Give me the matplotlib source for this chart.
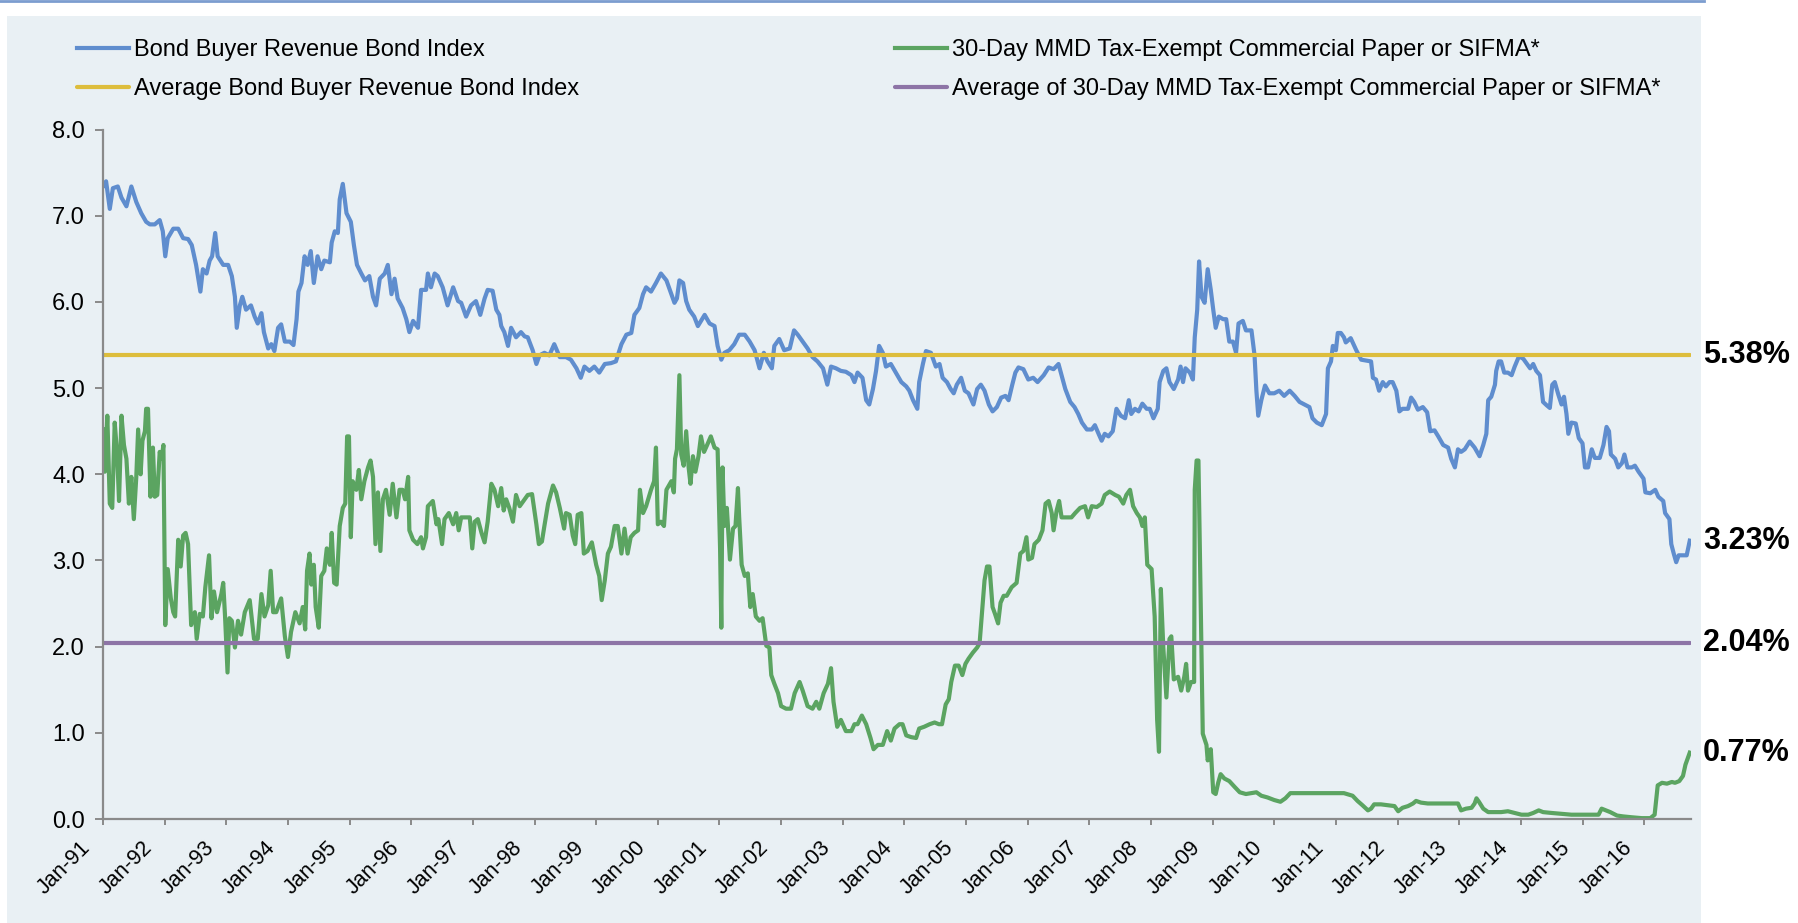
import matplotlib
matplotlib.use('Agg')
import matplotlib.pyplot as plt
import matplotlib.transforms as mtransforms
from matplotlib.lines import Line2D
from matplotlib.patches import Rectangle

plt.rcParams['font.family'] = ['Liberation Sans', 'DejaVu Sans']

# Bond Buyer Revenue Bond Index (decimal year, %)
bbri_years = [
    1991.00, 1991.05, 1991.11, 1991.16, 1991.24, 1991.30, 1991.38, 1991.46, 1991.54, 1991.62,
    1991.70, 1991.76, 1991.84, 1991.92, 1991.97, 1992.01, 1992.05, 1992.14, 1992.22, 1992.30,
    1992.38, 1992.44, 1992.51, 1992.58, 1992.62, 1992.68, 1992.73, 1992.77, 1992.82, 1992.86,
    1992.95, 1993.03, 1993.09, 1993.14, 1993.17, 1993.22, 1993.26, 1993.32, 1993.40, 1993.46,
    1993.51, 1993.57, 1993.61, 1993.68, 1993.73, 1993.78, 1993.84, 1993.89, 1993.95, 1994.03,
    1994.09, 1994.14, 1994.17, 1994.22, 1994.27, 1994.32, 1994.37, 1994.42, 1994.48, 1994.54,
    1994.59, 1994.68, 1994.71, 1994.76, 1994.81, 1994.84, 1994.89, 1994.95, 1995.02, 1995.07,
    1995.12, 1995.19, 1995.25, 1995.32, 1995.38, 1995.43, 1995.49, 1995.57, 1995.62, 1995.68,
    1995.73, 1995.78, 1995.86, 1995.92, 1995.97, 1996.03, 1996.11, 1996.16, 1996.24, 1996.27,
    1996.32, 1996.38, 1996.43, 1996.51, 1996.59, 1996.68, 1996.76, 1996.81, 1996.89, 1996.97,
    1997.05, 1997.12, 1997.19, 1997.24, 1997.32, 1997.38, 1997.43, 1997.46, 1997.51, 1997.57,
    1997.62, 1997.70, 1997.78, 1997.84, 1997.89, 1997.97, 1998.03, 1998.08, 1998.16, 1998.24,
    1998.32, 1998.41, 1998.51, 1998.59, 1998.68, 1998.75, 1998.81, 1998.89, 1998.97, 1999.05,
    1999.14, 1999.24, 1999.32, 1999.41, 1999.49, 1999.57, 1999.62, 1999.70, 1999.76, 1999.81,
    1999.89, 1999.97, 2000.05, 2000.14, 2000.22, 2000.27, 2000.31, 2000.35, 2000.41, 2000.46,
    2000.51, 2000.59, 2000.65, 2000.70, 2000.76, 2000.84, 2000.92, 2000.97, 2001.03, 2001.08,
    2001.16, 2001.24, 2001.32, 2001.41, 2001.49, 2001.57, 2001.65, 2001.72, 2001.78, 2001.85,
    2001.89, 2001.97, 2002.05, 2002.14, 2002.21, 2002.27, 2002.35, 2002.43, 2002.51, 2002.59,
    2002.68, 2002.75, 2002.81, 2002.89, 2002.97, 2003.05, 2003.14, 2003.19, 2003.24, 2003.32,
    2003.38, 2003.43, 2003.49, 2003.54, 2003.59, 2003.65, 2003.70, 2003.78, 2003.86, 2003.95,
    2004.03, 2004.08, 2004.14, 2004.21, 2004.24, 2004.30, 2004.35, 2004.43, 2004.51, 2004.57,
    2004.62, 2004.69, 2004.75, 2004.80, 2004.85, 2004.92, 2004.98, 2005.04, 2005.12, 2005.18,
    2005.24, 2005.30, 2005.37, 2005.43, 2005.50, 2005.57, 2005.64, 2005.69, 2005.75, 2005.80,
    2005.85, 2005.93, 2006.01, 2006.09, 2006.16, 2006.26, 2006.34, 2006.42, 2006.50, 2006.55,
    2006.61, 2006.69, 2006.76, 2006.82, 2006.88, 2006.96, 2007.04, 2007.09, 2007.15, 2007.20,
    2007.25, 2007.31, 2007.38, 2007.44, 2007.51, 2007.58, 2007.64, 2007.68, 2007.74, 2007.80,
    2007.86, 2007.93, 2007.98, 2008.04, 2008.11, 2008.14, 2008.20, 2008.25, 2008.30, 2008.37,
    2008.44, 2008.48, 2008.52, 2008.56, 2008.63, 2008.68, 2008.71, 2008.75, 2008.78, 2008.82,
    2008.87, 2008.92, 2008.97, 2009.01, 2009.05, 2009.10, 2009.17, 2009.22, 2009.27, 2009.33,
    2009.38, 2009.42, 2009.49, 2009.54, 2009.63, 2009.68, 2009.71, 2009.74, 2009.79, 2009.85,
    2009.92, 2010.00, 2010.08, 2010.16, 2010.25, 2010.33, 2010.41, 2010.49, 2010.57, 2010.62,
    2010.69, 2010.77, 2010.84, 2010.87, 2010.92, 2010.95, 2011.00, 2011.03, 2011.08, 2011.13,
    2011.16, 2011.24, 2011.33, 2011.41, 2011.49, 2011.57, 2011.60, 2011.65, 2011.70, 2011.76,
    2011.81, 2011.87, 2011.92, 2011.98, 2012.03, 2012.08, 2012.17, 2012.22, 2012.27, 2012.33,
    2012.41, 2012.48, 2012.53, 2012.60, 2012.66, 2012.74, 2012.82, 2012.87, 2012.93, 2012.98,
    2013.03, 2013.09, 2013.17, 2013.25, 2013.33, 2013.39, 2013.44, 2013.47, 2013.52, 2013.58,
    2013.60, 2013.64, 2013.68, 2013.73, 2013.79, 2013.85, 2013.90, 2013.97, 2014.04, 2014.09,
    2014.15, 2014.20, 2014.25, 2014.31, 2014.36, 2014.42, 2014.47, 2014.51, 2014.55, 2014.61,
    2014.66, 2014.70, 2014.74, 2014.77, 2014.82, 2014.89, 2014.94, 2015.00, 2015.04, 2015.09,
    2015.15, 2015.20, 2015.28, 2015.34, 2015.39, 2015.43, 2015.46, 2015.53, 2015.58, 2015.64,
    2015.68, 2015.73, 2015.80, 2015.85, 2015.91, 2015.99, 2016.02, 2016.10, 2016.18, 2016.23,
    2016.31, 2016.34, 2016.41, 2016.44, 2016.48, 2016.52, 2016.56, 2016.64, 2016.69, 2016.74,
]
bbri_values = [
    7.34, 7.40, 7.08, 7.32, 7.34, 7.21, 7.11, 7.34, 7.16, 7.03,
    6.93, 6.90, 6.90, 6.95, 6.82, 6.53, 6.74, 6.85, 6.85, 6.74,
    6.73, 6.66, 6.43, 6.12, 6.38, 6.33, 6.48, 6.53, 6.80, 6.53,
    6.43, 6.43, 6.30, 6.06, 5.70, 5.96, 6.06, 5.91, 5.96, 5.83,
    5.75, 5.87, 5.65, 5.46, 5.51, 5.43, 5.70, 5.74, 5.54, 5.54,
    5.50, 5.80, 6.12, 6.22, 6.53, 6.43, 6.59, 6.22, 6.53, 6.38,
    6.48, 6.46, 6.69, 6.82, 6.80, 7.19, 7.37, 7.03, 6.93, 6.66,
    6.43, 6.33, 6.25, 6.30, 6.06, 5.96, 6.27, 6.33, 6.43, 6.09,
    6.27, 6.04, 5.93, 5.80, 5.65, 5.78, 5.70, 6.14, 6.14, 6.33,
    6.17, 6.33, 6.30, 6.17, 5.96, 6.17, 6.01, 5.99, 5.83, 5.96,
    6.01, 5.85, 6.04, 6.14, 6.13, 5.91, 5.85, 5.72, 5.65, 5.49,
    5.70, 5.59, 5.65, 5.60, 5.59, 5.44, 5.28, 5.38, 5.41, 5.38,
    5.51, 5.36, 5.36, 5.33, 5.23, 5.12, 5.25, 5.20, 5.25, 5.18,
    5.28, 5.29, 5.31, 5.51, 5.62, 5.64, 5.85, 5.93, 6.09, 6.17,
    6.12, 6.22, 6.33, 6.25, 6.09, 5.99, 6.04, 6.25, 6.22, 6.01,
    5.91, 5.83, 5.72, 5.78, 5.85, 5.75, 5.72, 5.49, 5.33, 5.41,
    5.44, 5.51, 5.62, 5.62, 5.54, 5.44, 5.23, 5.41, 5.31, 5.23,
    5.49, 5.57, 5.44, 5.46, 5.67, 5.62, 5.54, 5.46, 5.36, 5.31,
    5.23, 5.04, 5.25, 5.23, 5.20, 5.19, 5.15, 5.07, 5.18, 5.12,
    4.86, 4.81, 4.99, 5.20, 5.49, 5.41, 5.25, 5.28, 5.18, 5.07,
    5.02, 4.97, 4.86, 4.76, 5.07, 5.28, 5.43, 5.41, 5.25, 5.28,
    5.12, 5.07, 4.99, 4.94, 5.04, 5.12, 4.97, 4.94, 4.81, 4.99,
    5.04, 4.97, 4.81, 4.73, 4.78, 4.89, 4.91, 4.86, 5.04, 5.18,
    5.24, 5.22, 5.10, 5.12, 5.07, 5.15, 5.24, 5.22, 5.28, 5.15,
    4.99, 4.84, 4.78, 4.70, 4.60, 4.52, 4.52, 4.57, 4.47, 4.39,
    4.47, 4.44, 4.50, 4.76, 4.68, 4.65, 4.86, 4.70, 4.76, 4.73,
    4.82, 4.76, 4.76, 4.65, 4.76, 5.07, 5.20, 5.23, 5.07, 4.99,
    5.10, 5.25, 5.07, 5.23, 5.18, 5.10, 5.59, 5.91, 6.47, 6.06,
    5.99, 6.38, 6.14, 5.91, 5.70, 5.83, 5.80, 5.80, 5.54, 5.54,
    5.41, 5.75, 5.78, 5.67, 5.67, 5.38, 4.97, 4.68, 4.86, 5.03,
    4.94, 4.94, 4.97, 4.91, 4.97, 4.91, 4.84, 4.81, 4.78, 4.65,
    4.60, 4.57, 4.70, 5.23, 5.31, 5.49, 5.44, 5.64, 5.64, 5.59,
    5.53, 5.58, 5.44, 5.33, 5.32, 5.31, 5.12, 5.10, 4.97, 5.07,
    5.02, 5.07, 5.07, 4.97, 4.73, 4.76, 4.76, 4.89, 4.84, 4.75,
    4.78, 4.72, 4.50, 4.51, 4.44, 4.34, 4.31, 4.18, 4.08, 4.29,
    4.26, 4.29, 4.38, 4.31, 4.21, 4.34, 4.47, 4.86, 4.90, 5.04,
    5.20, 5.31, 5.31, 5.18, 5.18, 5.15, 5.25, 5.37, 5.34, 5.29,
    5.23, 5.28, 5.20, 5.15, 4.84, 4.80, 4.77, 5.04, 5.07, 4.92,
    4.81, 4.90, 4.70, 4.47, 4.60, 4.59, 4.42, 4.36, 4.08, 4.08,
    4.29, 4.19, 4.19, 4.34, 4.55, 4.50, 4.23, 4.18, 4.08, 4.13,
    4.23, 4.08, 4.08, 4.10, 4.03, 3.95, 3.79, 3.78, 3.82, 3.74,
    3.69, 3.55, 3.48, 3.19, 3.08, 2.98, 3.06, 3.06, 3.06, 3.23,
]

# 30-Day MMD Tax-Exempt Commercial Paper or SIFMA (decimal year, %)
sifma_years = [
    1991.00, 1991.03, 1991.07, 1991.11, 1991.15, 1991.19, 1991.23, 1991.26, 1991.30, 1991.34,
    1991.38, 1991.42, 1991.46, 1991.50, 1991.54, 1991.57, 1991.61, 1991.64, 1991.68, 1991.70,
    1991.73, 1991.77, 1991.81, 1991.84, 1991.88, 1991.92, 1991.95, 1991.98, 1992.01, 1992.05,
    1992.10, 1992.14, 1992.17, 1992.22, 1992.26, 1992.30, 1992.34, 1992.38, 1992.43, 1992.49,
    1992.52, 1992.57, 1992.62, 1992.66, 1992.72, 1992.76, 1992.80, 1992.85, 1992.92, 1992.95,
    1992.98, 1993.02, 1993.05, 1993.09, 1993.14, 1993.19, 1993.24, 1993.30, 1993.38, 1993.45,
    1993.51, 1993.57, 1993.62, 1993.68, 1993.72, 1993.76, 1993.81, 1993.89, 1993.95, 1994.00,
    1994.05, 1994.12, 1994.19, 1994.24, 1994.28, 1994.31, 1994.35, 1994.38, 1994.42, 1994.45,
    1994.50, 1994.54, 1994.59, 1994.63, 1994.68, 1994.71, 1994.75, 1994.79, 1994.84, 1994.89,
    1994.93, 1994.96, 1994.99, 1995.02, 1995.05, 1995.11, 1995.15, 1995.19, 1995.24, 1995.30,
    1995.34, 1995.38, 1995.42, 1995.46, 1995.50, 1995.54, 1995.59, 1995.65, 1995.70, 1995.76,
    1995.81, 1995.86, 1995.90, 1995.95, 1995.97, 1996.03, 1996.10, 1996.16, 1996.19, 1996.24,
    1996.27, 1996.35, 1996.41, 1996.44, 1996.50, 1996.54, 1996.61, 1996.68, 1996.73, 1996.77,
    1996.81, 1996.89, 1996.95, 1996.99, 1997.03, 1997.08, 1997.14, 1997.19, 1997.24, 1997.30,
    1997.35, 1997.41, 1997.46, 1997.50, 1997.54, 1997.59, 1997.65, 1997.70, 1997.76, 1997.84,
    1997.89, 1997.96, 1998.03, 1998.07, 1998.12, 1998.16, 1998.22, 1998.30, 1998.35, 1998.41,
    1998.48, 1998.51, 1998.57, 1998.62, 1998.66, 1998.70, 1998.76, 1998.80, 1998.86, 1998.93,
    1999.00, 1999.05, 1999.09, 1999.14, 1999.19, 1999.24, 1999.30, 1999.35, 1999.41, 1999.46,
    1999.51, 1999.56, 1999.62, 1999.68, 1999.71, 1999.76, 1999.81, 1999.89, 1999.94, 1999.97,
    2000.00, 2000.05, 2000.10, 2000.14, 2000.22, 2000.26, 2000.28, 2000.31, 2000.35, 2000.38,
    2000.42, 2000.46, 2000.50, 2000.53, 2000.57, 2000.61, 2000.66, 2000.70, 2000.75, 2000.80,
    2000.86, 2000.92, 2000.97, 2001.01, 2001.03, 2001.05, 2001.08, 2001.12, 2001.17, 2001.22,
    2001.26, 2001.30, 2001.32, 2001.36, 2001.41, 2001.46, 2001.50, 2001.54, 2001.59, 2001.65,
    2001.70, 2001.76, 2001.81, 2001.84, 2001.89, 2001.95, 2002.00, 2002.08, 2002.16, 2002.22,
    2002.30, 2002.35, 2002.43, 2002.51, 2002.57, 2002.62, 2002.69, 2002.76, 2002.81, 2002.85,
    2002.91, 2002.97, 2003.05, 2003.14, 2003.19, 2003.24, 2003.31, 2003.38, 2003.45, 2003.50,
    2003.57, 2003.65, 2003.72, 2003.78, 2003.84, 2003.92, 2003.97, 2004.03, 2004.11, 2004.19,
    2004.24, 2004.32, 2004.41, 2004.49, 2004.56, 2004.61, 2004.67, 2004.72, 2004.76, 2004.82,
    2004.88, 2004.94, 2004.99, 2005.04, 2005.11, 2005.18, 2005.22, 2005.26, 2005.30, 2005.34,
    2005.38, 2005.43, 2005.47, 2005.52, 2005.56, 2005.61, 2005.66, 2005.74, 2005.82, 2005.88,
    2005.93, 2005.98, 2006.01, 2006.07, 2006.11, 2006.18, 2006.24, 2006.29, 2006.34, 2006.39,
    2006.42, 2006.47, 2006.51, 2006.55, 2006.63, 2006.71, 2006.77, 2006.85, 2006.93, 2006.98,
    2007.04, 2007.12, 2007.20, 2007.25, 2007.33, 2007.42, 2007.48, 2007.55, 2007.60, 2007.66,
    2007.71, 2007.77, 2007.82, 2007.86, 2007.90, 2007.94, 2008.01, 2008.06, 2008.10, 2008.13,
    2008.16, 2008.20, 2008.25, 2008.30, 2008.33, 2008.37, 2008.44, 2008.49, 2008.54, 2008.57,
    2008.60, 2008.65, 2008.70, 2008.71, 2008.74, 2008.77, 2008.81, 2008.84, 2008.90, 2008.92,
    2008.97, 2009.01, 2009.05, 2009.09, 2009.13, 2009.19, 2009.27, 2009.36, 2009.44, 2009.54,
    2009.63, 2009.71, 2009.79, 2009.89, 2010.00, 2010.10, 2010.18, 2010.26, 2010.38, 2010.54,
    2010.70, 2010.87, 2010.97, 2011.13, 2011.27, 2011.35, 2011.43, 2011.52, 2011.57, 2011.62,
    2011.73, 2011.84, 2011.95, 2012.01, 2012.08, 2012.17, 2012.25, 2012.30, 2012.38, 2012.49,
    2012.65, 2012.82, 2012.98, 2013.03, 2013.11, 2013.20, 2013.25, 2013.28, 2013.32, 2013.39,
    2013.47, 2013.58, 2013.68, 2013.79, 2013.90, 2014.01, 2014.12, 2014.20, 2014.29, 2014.36,
    2014.50, 2014.66, 2014.82, 2014.99, 2015.18, 2015.26, 2015.31, 2015.38, 2015.45, 2015.56,
    2015.66, 2015.80, 2015.96, 2016.10, 2016.17, 2016.22, 2016.29, 2016.37, 2016.45, 2016.50,
    2016.57, 2016.63, 2016.67, 2016.71, 2016.74,
]
sifma_values = [
    4.52, 4.03, 4.68, 3.66, 3.61, 4.60, 4.23, 3.69, 4.68, 4.34,
    4.18, 3.66, 3.97, 3.48, 3.97, 4.52, 4.00, 4.39, 4.50, 4.76,
    4.76, 3.74, 4.31, 3.74, 3.76, 4.26, 4.18, 4.34, 2.25, 2.90,
    2.56, 2.40, 2.35, 3.24, 2.93, 3.29, 3.32, 3.19, 2.25, 2.40,
    2.09, 2.38, 2.35, 2.69, 3.06, 2.33, 2.64, 2.40, 2.61, 2.74,
    2.35, 1.70, 2.33, 2.30, 1.99, 2.30, 2.14, 2.40, 2.54, 2.09,
    2.09, 2.61, 2.35, 2.48, 2.88, 2.40, 2.40, 2.56, 2.12, 1.88,
    2.17, 2.40, 2.27, 2.46, 2.20, 2.88, 3.08, 2.72, 2.95, 2.46,
    2.22, 2.82, 2.88, 3.14, 2.95, 3.32, 2.74, 2.72, 3.40, 3.61,
    3.66, 4.44, 4.44, 3.27, 3.92, 3.82, 4.05, 3.71, 3.92, 4.08,
    4.16, 3.97, 3.19, 3.79, 3.11, 3.71, 3.82, 3.53, 3.89, 3.50,
    3.82, 3.82, 3.71, 3.97, 3.35, 3.24, 3.19, 3.27, 3.14, 3.27,
    3.63, 3.69, 3.42, 3.48, 3.19, 3.48, 3.55, 3.42, 3.55, 3.35,
    3.50, 3.50, 3.50, 3.14, 3.45, 3.48, 3.32, 3.21, 3.45, 3.89,
    3.82, 3.63, 3.84, 3.58, 3.71, 3.61, 3.45, 3.76, 3.63, 3.71,
    3.76, 3.77, 3.42, 3.19, 3.22, 3.40, 3.66, 3.87, 3.79, 3.61,
    3.37, 3.55, 3.53, 3.29, 3.19, 3.53, 3.55, 3.08, 3.11, 3.21,
    2.95, 2.82, 2.54, 2.77, 3.08, 3.16, 3.40, 3.40, 3.08, 3.37,
    3.08, 3.27, 3.32, 3.35, 3.82, 3.55, 3.63, 3.82, 3.92, 4.31,
    3.42, 3.45, 3.40, 3.82, 3.92, 3.79, 4.18, 4.29, 5.15, 4.23,
    4.10, 4.50, 4.08, 3.89, 4.21, 4.03, 4.21, 4.44, 4.26, 4.34,
    4.44, 4.31, 4.29, 3.14, 2.22, 4.08, 3.40, 3.61, 3.01, 3.37,
    3.40, 3.84, 3.50, 2.95, 2.82, 2.85, 2.46, 2.61, 2.35, 2.30,
    2.33, 2.01, 1.99, 1.67, 1.57, 1.46, 1.31, 1.28, 1.28, 1.46,
    1.59, 1.49, 1.31, 1.28, 1.36, 1.28, 1.46, 1.57, 1.75, 1.36,
    1.07, 1.15, 1.02, 1.02, 1.10, 1.10, 1.20, 1.10, 0.94, 0.81,
    0.86, 0.86, 1.02, 0.91, 1.05, 1.10, 1.10, 0.97, 0.95, 0.94,
    1.05, 1.07, 1.10, 1.12, 1.10, 1.10, 1.33, 1.39, 1.59, 1.78,
    1.78, 1.67, 1.80, 1.86, 1.93, 1.99, 2.04, 2.40, 2.77, 2.93,
    2.93, 2.46, 2.38, 2.27, 2.51, 2.59, 2.59, 2.69, 2.74, 3.08,
    3.11, 3.27, 3.01, 3.03, 3.19, 3.24, 3.35, 3.66, 3.69, 3.55,
    3.35, 3.58, 3.69, 3.50, 3.50, 3.50, 3.55, 3.61, 3.63, 3.50,
    3.63, 3.62, 3.66, 3.76, 3.80, 3.76, 3.74, 3.66, 3.76, 3.82,
    3.63, 3.55, 3.50, 3.40, 3.50, 2.95, 2.90, 2.35, 1.15, 0.78,
    2.67, 1.99, 1.41, 2.09, 2.12, 1.62, 1.65, 1.49, 1.65, 1.80,
    1.49, 1.59, 1.59, 3.82, 4.16, 4.16, 2.35, 0.99, 0.86, 0.68,
    0.81, 0.31, 0.29, 0.42, 0.52, 0.47, 0.44, 0.37, 0.31, 0.29,
    0.30, 0.31, 0.27, 0.25, 0.22, 0.20, 0.24, 0.30, 0.30, 0.30,
    0.30, 0.30, 0.30, 0.30, 0.27, 0.21, 0.16, 0.10, 0.12, 0.17,
    0.17, 0.16, 0.15, 0.09, 0.13, 0.15, 0.18, 0.21, 0.19, 0.18,
    0.18, 0.18, 0.18, 0.10, 0.12, 0.13, 0.18, 0.24, 0.20, 0.12,
    0.08, 0.08, 0.08, 0.09, 0.07, 0.05, 0.05, 0.07, 0.10, 0.08,
    0.07, 0.06, 0.05, 0.05, 0.05, 0.05, 0.12, 0.10, 0.08, 0.04,
    0.03, 0.02, 0.01, 0.01, 0.05, 0.39, 0.42, 0.41, 0.43, 0.42,
    0.44, 0.50, 0.63, 0.71, 0.77,
]

bbri_avg = 5.38
sifma_avg = 2.04

tick_years = list(range(1991, 2017))
tick_labels = ['Jan-%02d' % (y % 100) for y in tick_years]

labels = [
    'Bond Buyer Revenue Bond Index',
    'Average Bond Buyer Revenue Bond Index',
    '30-Day MMD Tax-Exempt Commercial Paper or SIFMA*',
    'Average of 30-Day MMD Tax-Exempt Commercial Paper or SIFMA*',
]

BLUE = '#5F8DCE'
GREEN = '#5BA461'
YELLOW = '#DDBD3C'
PURPLE = '#8D74A6'
PANEL = '#E9F0F4'
RULE = '#7C9DCF'
AXIS = '#8A8A8A'

W, H = 1799, 923
fig = plt.figure(figsize=(W / 100, H / 100), dpi=100)

# background panel and the thin rule at the very top
fig.patches.append(Rectangle((7 / W, 0), 1694 / W, (H - 16) / H, transform=fig.transFigure,
                             facecolor=PANEL, edgecolor='none', zorder=-5))
fig.add_artist(Line2D([0, 1704 / W], [1 - 1.2 / H] * 2, color=RULE, lw=2, zorder=-4))

ax = fig.add_axes([103 / W, 1 - 819 / H, 1588 / W, (819 - 129.6) / H])
ax.set_facecolor('none')
ax.set_zorder(1)

lw = 3.0
l_bbri, = ax.plot(bbri_years, bbri_values, color=BLUE, lw=lw, solid_joinstyle='round', label=labels[0])
l_sifma, = ax.plot(sifma_years, sifma_values, color=GREEN, lw=lw, solid_joinstyle='round', label=labels[2])
l_bavg, = ax.plot([bbri_years[0], bbri_years[-1]], [bbri_avg, bbri_avg], color=YELLOW, lw=lw,
                  solid_capstyle='round', label=labels[1])
l_savg, = ax.plot([sifma_years[0], sifma_years[-1]], [sifma_avg, sifma_avg], color=PURPLE, lw=lw,
                  solid_capstyle='round', label=labels[3])

ax.set_xlim(1991, 2016.76)
ax.set_ylim(0, 8)

for side in ['top', 'right']:
    ax.spines[side].set_visible(False)
for side in ['left', 'bottom']:
    ax.spines[side].set_color(AXIS)
    ax.spines[side].set_linewidth(1.6)

ax.set_yticks(range(0, 9))
ax.set_yticklabels(['%.1f' % v for v in range(0, 9)])
ax.tick_params(axis='y', length=6, width=1.4, color=AXIS, pad=7, labelsize=17)

ax.set_xticks(tick_years)
ax.set_xticklabels(tick_labels, rotation=45, ha='right')
ax.tick_params(axis='x', length=4, width=1.4, color=AXIS, pad=9, labelsize=15.5)
offset = mtransforms.ScaledTranslation(-8 / 100, 0, fig.dpi_scale_trans)
for lbl in ax.get_xticklabels():
    lbl.set_transform(lbl.get_transform() + offset)

# value tags to the right of the plot
for v in [bbri_avg, bbri_values[-1], sifma_avg, sifma_values[-1]]:
    ax.text(1.0075, v, '%.2f%%' % v, transform=ax.get_yaxis_transform(), ha='left', va='center',
            fontsize=22, fontweight='bold', clip_on=False)

leg_kw = dict(loc='upper left', frameon=False, fontsize=17, handlelength=2.2,
              handletextpad=0.2, labelspacing=0.72, borderpad=0, borderaxespad=0)
fig.legend(handles=[l_bbri, l_bavg], bbox_to_anchor=(77 / W, 1 - 39 / H), **leg_kw)
fig.legend(handles=[l_sifma, l_savg], bbox_to_anchor=(895 / W, 1 - 39 / H), **leg_kw)

fig.savefig('out.png', dpi=100, facecolor='white')
